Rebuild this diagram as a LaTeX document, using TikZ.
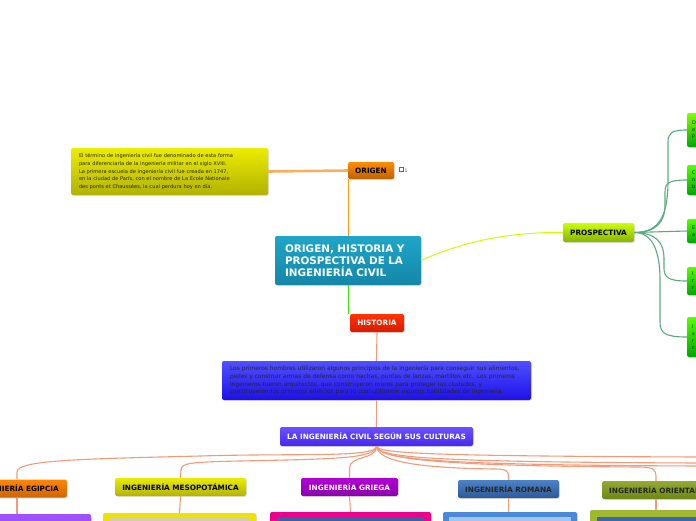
\documentclass[tikz,border=0pt]{standalone}
\usepackage{fontspec}
\setmainfont{DejaVu Sans}
\usepackage{tikz}
\usetikzlibrary{shadows, calc}

\definecolor{linkcol}{HTML}{F49A78}
\definecolor{fancol}{HTML}{5AAA80}
\definecolor{origcol}{HTML}{FF9A10}
\definecolor{histcol}{HTML}{40E010}
\definecolor{thickcol}{HTML}{F8B060}

\begin{document}
\begin{tikzpicture}[
  x=1pt, y=-1pt,
  box/.style={rectangle, rounded corners=2pt, inner sep=0pt, align=center,
              drop shadow={shadow xshift=0.8pt, shadow yshift=-0.8pt, opacity=.25}},
  tag/.style={box, font=\fontsize{7.3}{8}\selectfont\bfseries, minimum height=18pt},
  note/.style={box, font=\fontsize{5.1}{7.7}\selectfont, align=left, text=black!85,
               inner xsep=8pt},
  leaf/.style={box, font=\fontsize{5}{7}\selectfont, align=left, text=black!85,
               inner xsep=5pt, minimum width=60pt, text width=50pt,
               top color=green!55!lime, bottom color=green!65!black},
  link/.style={draw=linkcol, line width=1.1pt},
  fan/.style={draw=fancol, line width=1.1pt}
]
\useasboundingbox (0,0) rectangle (696,520);
\clip (0,0) rectangle (696,520);

% centre and first level
\node[box, minimum width=146pt, minimum height=49pt, text width=126pt, align=left,
      top color={rgb,255:red,30;green,166;blue,200}, bottom color={rgb,255:red,20;green,134;blue,168},
      text=white, font=\fontsize{10.4}{12}\selectfont\bfseries] (cen) at (348,260.5)
  {ORIGEN, HISTORIA Y\\PROSPECTIVA DE LA\\INGENIERÍA CIVIL};

\node[tag, minimum width=46pt, minimum height=17pt, top color=orange!90!yellow,
      bottom color=orange!75!black] (org) at (371,170.5) {ORIGEN};
\node[note, text width=181pt, minimum height=47pt, top color=yellow!85!olive,
      bottom color=yellow!55!olive!90!black] (yel) at (169.5,171.5)
  {El término de ingeniería civil fue denominado de esta forma\\
   para diferenciarla de la ingeniería militar en el siglo XVIII.\\
   La primera escuela de ingeniería civil fue creada en 1747,\\
   en la ciudad de París, con el nombre de La Ecole Nationale\\
   des ponts et Chaussées, la cual perdura hoy en día.};
\node[draw=black!60, line width=0.4pt, minimum size=4pt, inner sep=0pt] (ico) at (401,169.5) {};
\node[font=\fontsize{4.5}{4.5}\selectfont, text=black!70, inner sep=0pt,
      anchor=west] (num) at (404.5,171) {1};

\node[tag, minimum width=54pt, top color=red!60!orange, bottom color=red!75!orange!85!black,
      text=white] (his) at (377,323) {HISTORIA};
\node[note, font=\fontsize{5.9}{7.6}\selectfont, text width=293pt, minimum height=39pt,
      top color={rgb,255:red,80;green,80;blue,255}, bottom color={rgb,255:red,30;green,16;blue,232}]
  (blu) at (376.5,380.5)
  {Los primeros hombres utilizaron algunos principios de la ingeniería para conseguir sus alimentos,\\
   pieles y construir armas de defensa como hachas, puntas de lanzas, martillos etc. Los primeros\\
   ingenieros fueron arquitectos, que construyeron muros para proteger las ciudades, y\\
   construyeron los primeros edificios para lo cual utilizaron algunas habilidades de ingeniería.};
\node[tag, minimum width=193pt, minimum height=19pt,
      top color={rgb,255:red,110;green,80;blue,255}, bottom color={rgb,255:red,70;green,40;blue,240},
      text=white] (cult) at (376.5,436.5)
  {LA INGENIERÍA CIVIL SEGÚN SUS CULTURAS};

\node[tag, minimum width=71pt, minimum height=19pt, top color=lime!80!yellow,
      bottom color=lime!70!black] (pro) at (598.5,232.5) {PROSPECTIVA};

% prospectiva leaves
\node[leaf, minimum height=34pt, top color=lime!70!green] (g1) at (717,130) {D\\e\\P};
\node[leaf, minimum height=30pt] (g2) at (717,180) {C\\n\\b};
\node[leaf, minimum height=24pt] (g3) at (717,231) {E\\a};
\node[leaf, minimum height=28pt] (g4) at (717,281) {I\\r\\r};
\node[leaf, minimum height=40pt] (g5) at (717,337) {I\\s\\r\\c};

% cultures
\node[tag, anchor=east, inner xsep=8pt, top color=orange!95!yellow, bottom color=orange!80!black]
  (egi) at (67,488.5) {INGENIERÍA EGIPCIA};
\node[tag, minimum width=131pt, top color=yellow!85!olive, bottom color=yellow!55!olive!90!black]
  (mes) at (180.5,487) {INGENIERÍA MESOPOTÁMICA};
\node[tag, minimum width=97pt, top color={rgb,255:red,178;green,0;blue,214},
      bottom color={rgb,255:red,140;green,0;blue,172}, text=white] (gri) at (349.5,487) {INGENIERÍA GRIEGA};
\node[tag, minimum width=101pt, top color={rgb,255:red,76;green,130;blue,200},
      bottom color={rgb,255:red,44;green,90;blue,150}, text=black!85] (rom) at (508.5,489) {INGENIERÍA ROMANA};
\node[tag, anchor=west, inner xsep=7pt, top color={rgb,255:red,148;green,170;blue,50},
      bottom color={rgb,255:red,106;green,136;blue,20}, text=black!85] (ori) at (602,490) {INGENIERÍA ORIENTAL};

% boxes below the cultures
\node[box, minimum width=101pt, minimum height=30pt, fill={rgb,255:red,160;green,80;blue,255}] (egib) at (40.5,529) {};
\node[box, minimum width=153pt, minimum height=30pt, fill=yellow!85!olive] (mesb) at (179.5,528) {};
\node[rectangle, minimum width=139pt, minimum height=20pt, fill=black!35!olive!30] (mesi) at (179.5,528) {};
\node[box, minimum width=161pt, minimum height=30pt, fill=magenta] (grib) at (350.5,527) {};
\node[rectangle, minimum width=147pt, minimum height=20pt, fill={rgb,255:red,58;green,96;blue,160}] (grii) at (350.5,527) {};
\node[box, minimum width=134pt, minimum height=30pt, fill={rgb,255:red,74;green,136;blue,216}] (romb) at (510,527) {};
\node[rectangle, minimum width=122pt, minimum height=20pt, fill={rgb,255:red,165;green,195;blue,240}] (romi) at (510,527) {};
\node[box, minimum width=120pt, minimum height=30pt, fill={rgb,255:red,160;green,184;blue,48}] (orib) at (650,525) {};
\node[rectangle, minimum width=108pt, minimum height=20pt, fill={rgb,255:red,58;green,104;blue,168}] (orii) at (651,527) {};

% connectors
\coordinate (orgfoot) at ($(org.south west)+(0.5,0)$);
\coordinate (hishead) at ($(his.north west)+(-1.5,0)$);
\draw[draw=thickcol, line width=2.6pt] (yel.east) -- (org.west);
\draw[draw=origcol, line width=1.3pt] (orgfoot) -- (orgfoot |- cen.north);
\draw[draw=histcol, line width=1.3pt] (hishead |- cen.south) -- (hishead);
\draw[draw=lime!80!yellow, line width=1pt] (cen.east) .. controls (470,238) and (520,232) .. (pro.west);
\draw[link] (his.south) -- (blu.north);
\draw[link] (blu.south) -- (cult.north);

\draw[fan] (pro.east) .. controls (660,232.5) and (668,215) .. (668,180) -- (668,142)
  .. controls (668,133) and (672,130) .. (g1.west);
\draw[fan] (pro.east) .. controls (656,232.5) and (665,222) .. (665,205) -- (665,192)
  .. controls (665,183) and (669,180) .. (g2.west);
\draw[fan] (pro.east) -- (g3.west);
\draw[fan] (pro.east) .. controls (656,232.5) and (664,243) .. (664,258) -- (664,268)
  .. controls (664,277) and (668,281) .. (g4.west);
\draw[fan] (pro.east) .. controls (652,232.5) and (660,250) .. (660,280) -- (660,322)
  .. controls (660,333) and (665,337) .. (g5.west);

\coordinate (egitop) at ($(egi.north east)+(-50,0)$);
\coordinate (oritop) at ($(ori.north west)+(54,0)$);
\coordinate (off1) at (700,457);
\coordinate (off2) at (700,463);
\coordinate (off3) at (700,466);
\draw[link] (cult.south) .. controls (376,458) and (300,453) .. (200,456)
  .. controls (80,459) and (17,460) .. (17,472) -- (egitop);
\draw[link] (cult.south) .. controls (376,459) and (330,459) .. (240,461)
  .. controls (190,462) and (181,463) .. (181,470) -- (mes.north);
\draw[link] (cult.south) .. controls (377,460) and (350,455) .. (349.5,468) -- (gri.north);
\draw[link] (cult.south) .. controls (378,462) and (420,468) .. (495,469)
  .. controls (506,469) and (508.5,471) .. (508.5,476) -- (rom.north);
\draw[link] (cult.south) .. controls (379,460) and (450,466) .. (640,467)
  .. controls (653,467) and (656,470) .. (656,476) -- (oritop);
\draw[link] (cult.south) .. controls (378,453) and (420,456) .. (off1);
\draw[link] (cult.south) .. controls (378,457) and (420,462) .. (off2);
\draw[link] (cult.south) .. controls (379,459) and (430,465) .. (off3);
\draw[link] (egitop |- egi.south) -- (egitop |- egib.north);
\draw[link] (mes.south) -- (mesb.north);
\draw[link] (gri.south) -- (grib.north);
\draw[link] (rom.south) -- (rom.south |- romb.north);
\draw[link] (oritop |- ori.south) -- (oritop |- orib.north);
\end{tikzpicture}
\end{document}
